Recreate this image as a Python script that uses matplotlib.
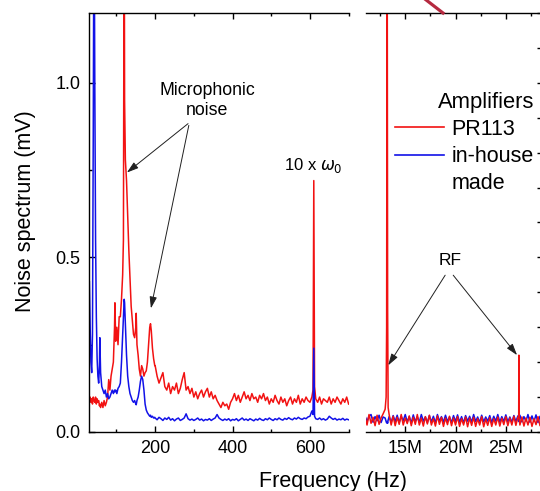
import matplotlib.pyplot as plt
from matplotlib.lines import Line2D
from matplotlib.ticker import MultipleLocator, FormatStrFormatter, FuncFormatter

plt.rcParams['font.family'] = ['Liberation Sans', 'DejaVu Sans']
plt.rcParams['mathtext.fontset'] = 'dejavusans'

# audio range, Hz
freq_low = [30, 32, 34, 36, 38, 40, 42, 44, 46, 48,
            50, 52, 54, 56, 57, 59, 62, 65, 68, 71,
            74, 77, 80, 83, 86, 89, 92, 95, 96, 98,
            101, 104, 107, 110, 113, 116, 118, 120, 121, 123,
            126, 129, 132, 135, 138, 141, 144, 147, 150, 151,
            153, 156, 159, 162, 165, 168, 171, 174, 177, 180,
            183, 186, 188, 190, 193, 196, 199,
            200, 205, 210, 215, 220, 225, 230, 235, 240, 245,
            250, 255, 260, 265, 270, 275, 280, 285, 290, 295,
            300, 305, 310, 315, 320, 325, 330, 335, 340, 345,
            350, 355, 360, 365, 370, 375, 380, 385, 390, 395,
            400, 405, 410, 415, 420, 425, 430, 435, 440, 445,
            450, 455, 460, 465, 470, 475, 480, 485, 490, 495,
            500, 505, 510, 515, 520, 525, 530, 535, 540, 545,
            550, 555, 560, 565, 570, 575, 580, 585, 590, 595,
            600, 605, 608, 610, 612, 615, 620, 625, 630, 635,
            640, 645, 650, 655, 660, 665, 670, 675, 680, 685,
            690, 695, 700]

red_low = [0.09, 0.10, 0.085, 0.095, 0.08, 0.10, 0.09, 0.085, 0.10, 0.08,
           0.095, 0.085, 0.09, 0.075, 0.08, 0.07, 0.085, 0.07, 0.09, 0.075,
           0.085, 0.10, 0.15, 0.12, 0.16, 0.18, 0.20, 0.30, 0.37, 0.26,
           0.30, 0.25, 0.33, 0.33, 0.38, 0.45, 0.55, 1.60, 0.95, 0.78,
           0.72, 0.62, 0.52, 0.44, 0.36, 0.32, 0.28, 0.27, 0.30, 0.34,
           0.25, 0.22, 0.18, 0.16, 0.19, 0.18, 0.16, 0.17, 0.175, 0.20,
           0.25, 0.30, 0.31, 0.29, 0.24, 0.21, 0.19,
           0.19, 0.16, 0.14, 0.155, 0.17, 0.13, 0.12, 0.14, 0.11, 0.13,
           0.12, 0.14, 0.11, 0.125, 0.15, 0.17, 0.12, 0.13, 0.11, 0.125,
           0.10, 0.115, 0.095, 0.11, 0.12, 0.10, 0.115, 0.125, 0.10, 0.115,
           0.095, 0.105, 0.09, 0.08, 0.07, 0.085, 0.075, 0.08, 0.065, 0.085,
           0.095, 0.11, 0.09, 0.105, 0.085, 0.10, 0.115, 0.095, 0.105, 0.09,
           0.11, 0.095, 0.10, 0.085, 0.105, 0.095, 0.11, 0.09, 0.10, 0.08,
           0.095, 0.085, 0.105, 0.09, 0.08, 0.10, 0.085, 0.095, 0.075, 0.09,
           0.10, 0.08, 0.095, 0.085, 0.105, 0.08, 0.095, 0.085, 0.10, 0.09,
           0.085, 0.10, 0.12, 0.72, 0.13, 0.095, 0.085, 0.10, 0.08, 0.095,
           0.09, 0.085, 0.10, 0.08, 0.095, 0.085, 0.10, 0.09, 0.08, 0.095,
           0.085, 0.10, 0.08]

blue_low = [0.43, 0.30, 0.20, 0.17, 0.28, 0.85, 1.60, 1.00, 0.55, 0.33,
            0.21, 0.16, 0.14, 0.19, 0.27, 0.17, 0.13, 0.12, 0.11, 0.12,
            0.10, 0.11, 0.095, 0.10, 0.11, 0.12, 0.11, 0.12, 0.115, 0.12,
            0.11, 0.125, 0.13, 0.14, 0.20, 0.28, 0.34, 0.38, 0.37, 0.31,
            0.22, 0.16, 0.13, 0.11, 0.10, 0.09, 0.085, 0.09, 0.08, 0.078,
            0.09, 0.10, 0.12, 0.145, 0.16, 0.15, 0.12, 0.08, 0.063, 0.055,
            0.05, 0.045, 0.048, 0.042, 0.045, 0.04, 0.042,
            0.04, 0.035, 0.042, 0.038, 0.033, 0.04, 0.036, 0.042, 0.034, 0.038,
            0.032, 0.037, 0.04, 0.033, 0.036, 0.04, 0.052, 0.038, 0.034, 0.037,
            0.033, 0.036, 0.04, 0.034, 0.037, 0.032, 0.036, 0.034, 0.038, 0.033,
            0.037, 0.04, 0.05, 0.04, 0.036, 0.033, 0.037, 0.034, 0.038, 0.032,
            0.036, 0.034, 0.038, 0.032, 0.036, 0.04, 0.034, 0.037, 0.033, 0.038,
            0.035, 0.032, 0.037, 0.034, 0.039, 0.035, 0.033, 0.038, 0.035, 0.04,
            0.036, 0.033, 0.038, 0.035, 0.04, 0.036, 0.034, 0.039, 0.036, 0.041,
            0.037, 0.035, 0.04, 0.037, 0.042, 0.038, 0.036, 0.04, 0.038, 0.043,
            0.045, 0.06, 0.05, 0.24, 0.045, 0.038, 0.036, 0.04, 0.035, 0.038,
            0.034, 0.037, 0.045, 0.04, 0.036, 0.039, 0.034, 0.037, 0.035, 0.039,
            0.034, 0.037, 0.035]

# RF range, MHz
freq_rf = [11.0, 11.2, 11.4, 11.6, 11.8, 12.0, 12.2, 12.4, 12.6, 12.8,
           13.0, 13.1, 13.15, 13.2, 13.25, 13.3,
           13.4, 13.6, 13.8, 14.0, 14.2, 14.4, 14.6, 14.8, 15.0, 15.2,
           15.4, 15.6, 15.8, 16.0, 16.2, 16.4, 16.6, 16.8, 17.0, 17.2,
           17.4, 17.6, 17.8, 18.0, 18.2, 18.4, 18.6, 18.8, 19.0, 19.2,
           19.4, 19.6, 19.8, 20.0, 20.2, 20.4, 20.6, 20.8, 21.0, 21.2,
           21.4, 21.6, 21.8, 22.0, 22.2, 22.4, 22.6, 22.8, 23.0, 23.2,
           23.4, 23.6, 23.8, 24.0, 24.2, 24.4, 24.6, 24.8, 25.0, 25.2,
           25.4, 25.6, 25.8, 26.0, 26.2,
           26.28, 26.3, 26.32,
           26.4, 26.6, 26.8, 27.0, 27.2, 27.4, 27.6, 27.8, 28.0, 28.2, 28.4, 28.6]

red_rf = [0.045, 0.02, 0.05, 0.025, 0.042, 0.018, 0.048, 0.022, 0.04, 0.052,
          0.065, 0.1, 0.3, 1.6, 0.35, 0.07,
          0.05, 0.02, 0.045, 0.018, 0.042, 0.022, 0.05, 0.02, 0.04, 0.024,
          0.046, 0.018, 0.042, 0.022, 0.05, 0.02, 0.04, 0.017, 0.044, 0.023,
          0.048, 0.02, 0.038, 0.017, 0.046, 0.022, 0.042, 0.016, 0.04, 0.021,
          0.045, 0.018, 0.04, 0.02, 0.044, 0.016, 0.038, 0.02, 0.043, 0.015,
          0.04, 0.019, 0.042, 0.016, 0.038, 0.02, 0.044, 0.015, 0.037, 0.019,
          0.041, 0.016, 0.038, 0.02, 0.043, 0.017, 0.039, 0.021, 0.044, 0.018,
          0.04, 0.02, 0.045, 0.019, 0.042,
          0.045, 0.22, 0.04,
          0.02, 0.043, 0.017, 0.04, 0.02, 0.042, 0.016, 0.038, 0.021, 0.044, 0.018, 0.04]

blue_rf = [0.046, 0.03, 0.045, 0.05, 0.028, 0.044, 0.032, 0.048, 0.027, 0.043,
           0.04, 0.03, 0.026, 0.03, 0.025, 0.034,
           0.044, 0.028, 0.047, 0.03, 0.048, 0.027, 0.045, 0.032, 0.05, 0.029,
           0.044, 0.026, 0.049, 0.03, 0.043, 0.028, 0.05, 0.031, 0.043, 0.027,
           0.047, 0.029, 0.045, 0.026, 0.05, 0.031, 0.044, 0.028, 0.048, 0.03,
           0.043, 0.027, 0.047, 0.03, 0.049, 0.028, 0.044, 0.026, 0.047, 0.031,
           0.045, 0.028, 0.05, 0.03, 0.043, 0.027, 0.048, 0.029, 0.043, 0.031,
           0.047, 0.027, 0.045, 0.031, 0.05, 0.028, 0.044, 0.03, 0.049, 0.029,
           0.043, 0.028, 0.047, 0.03, 0.046,
           0.03, 0.035, 0.04,
           0.048, 0.029, 0.044, 0.031, 0.05, 0.028, 0.046, 0.03, 0.049, 0.027, 0.045, 0.032]

# legend rows; the blue label wraps onto a second row
legend_labels = ['PR113', 'in-house', 'made']
red = '#f21212'
blue = '#1212e8'

fig = plt.figure(figsize=(5.4, 4.91), dpi=100)
ax1 = fig.add_axes([0.1648, 0.1202, 0.4815, 0.8534])
ax2 = fig.add_axes([0.6778, 0.1202, 0.3241, 0.8534])

ax1.plot(freq_low, red_low, color=red, lw=1.1)
ax1.plot(freq_low, blue_low, color=blue, lw=1.1)

ax2.plot([f * 1e6 for f in freq_rf], blue_rf, color=blue, lw=1.1)
ax2.plot([f * 1e6 for f in freq_rf], red_rf, color=red, lw=1.1)

ax1.set_xlim(29, 701)
ax1.set_ylim(0, 1.2)
ax1.xaxis.set_major_locator(MultipleLocator(200))
ax1.xaxis.set_minor_locator(MultipleLocator(100))
ax1.yaxis.set_major_locator(MultipleLocator(0.5))
ax1.yaxis.set_minor_locator(MultipleLocator(0.25))
ax1.yaxis.set_major_formatter(FormatStrFormatter('%.1f'))
ax1.spines['right'].set_visible(False)
ax1.tick_params(which='both', direction='in', top=True, right=False, labelsize=13, pad=6, width=1)
ax1.tick_params(which='major', length=4.5)
ax1.tick_params(which='minor', length=2.5)

ax2.set_xlim(11.1e6, 28.5e6)
ax2.set_ylim(0, 1.2)
ax2.xaxis.set_major_locator(MultipleLocator(5e6))
ax2.xaxis.set_minor_locator(MultipleLocator(2.5e6))
ax2.xaxis.set_major_formatter(FuncFormatter(lambda v, p: f'{v / 1e6:.0f}M'))
ax2.yaxis.set_major_locator(MultipleLocator(0.1))
ax2.yaxis.tick_right()
ax2.spines['left'].set_visible(False)
ax2.tick_params(which='both', direction='in', top=True, labelsize=13, pad=6, width=1)
ax2.tick_params(axis='x', which='major', length=4.5)
ax2.tick_params(axis='x', which='minor', length=2.5)
ax2.tick_params(axis='y', length=3, labelright=False, left=False)

for ax in (ax1, ax2):
    for s in ax.spines.values():
        s.set_linewidth(1.0)

arrow = dict(arrowstyle='-|>,head_length=0.7,head_width=0.22', color='#202020',
             lw=0.7, shrinkA=0, shrinkB=0, mutation_scale=10)
ax1.text(334, 0.95, 'Microphonic\nnoise', ha='center', va='center', fontsize=12.8)
ax1.annotate('', xy=(127, 0.743), xytext=(285, 0.883), arrowprops=arrow)
ax1.annotate('', xy=(189, 0.354), xytext=(287, 0.878), arrowprops=arrow)
ax1.text(608, 0.763, r'10 x $\omega_0$', ha='center', va='center', fontsize=12)

ax2.text(19.5e6, 0.49, 'RF', ha='center', va='center', fontsize=12.5)
ax2.annotate('', xy=(13.31e6, 0.191), xytext=(18.97e6, 0.449), arrowprops=arrow)
ax2.annotate('', xy=(26.12e6, 0.22), xytext=(19.77e6, 0.449), arrowprops=arrow)

handles = [Line2D([], [], color=red, lw=1.2), Line2D([], [], color=blue, lw=1.2),
           Line2D([], [], lw=0)]
leg = ax2.legend(handles, legend_labels, title='Amplifiers', loc='upper right',
                 bbox_to_anchor=(534 / 540, 1 - 92 / 491), bbox_transform=fig.transFigure,
                 fontsize=15.5, title_fontsize=15.8, handlelength=2.3, handletextpad=0.35,
                 labelspacing=0.28, borderpad=0, borderaxespad=0, alignment='right',
                 fancybox=False, framealpha=1)
leg.get_frame().set_edgecolor('none')

fig.add_artist(Line2D([423 / 540, 443 / 540], [1.005, 1 - 13 / 491], transform=fig.transFigure,
                      color='#b52a40', lw=2.3))

fig.text(0.617, 0.02, 'Frequency (Hz)', ha='center', va='center', fontsize=15.5)
fig.text(0.048, 0.570, 'Noise spectrum (mV)', rotation=90, ha='center', va='center', fontsize=15.5)

fig.savefig('out.png', dpi=100)
